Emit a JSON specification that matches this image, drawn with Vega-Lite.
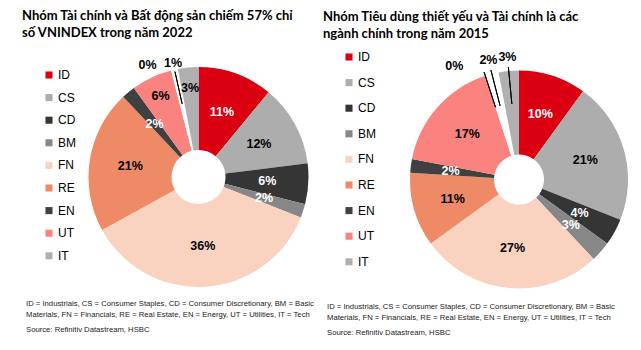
{
  "$schema": "https://vega.github.io/schema/vega-lite/v6.json",
  "padding": {"left": 22, "top": 9, "right": 0, "bottom": 0},
  "background": "white",
  "config": {"view": {"stroke": null}},
  "bounds": "flush",
  "spacing": 322,
  "resolve": {"scale": {"color": "independent", "theta": "independent"}, "legend": {"color": "independent"}},
  "datasets": {
    "y2022": [
      {"s": "ID", "v": 0.11, "i": 1},
      {"s": "CS", "v": 0.12, "i": 2},
      {"s": "CD", "v": 0.06, "i": 3},
      {"s": "BM", "v": 0.02, "i": 4},
      {"s": "FN", "v": 0.36, "i": 5},
      {"s": "RE", "v": 0.21, "i": 6},
      {"s": "EN", "v": 0.02, "i": 7},
      {"s": "UT", "v": 0.06, "i": 8},
      {"s": "HC", "v": 0.0, "i": 9},
      {"s": "TC", "v": 0.01, "i": 10},
      {"s": "IT", "v": 0.03, "i": 11}
    ],
    "y2015": [
      {"s": "ID", "v": 0.10, "i": 1},
      {"s": "CS", "v": 0.21, "i": 2},
      {"s": "CD", "v": 0.04, "i": 3},
      {"s": "BM", "v": 0.03, "i": 4},
      {"s": "FN", "v": 0.27, "i": 5},
      {"s": "RE", "v": 0.11, "i": 6},
      {"s": "EN", "v": 0.02, "i": 7},
      {"s": "UT", "v": 0.17, "i": 8},
      {"s": "HC", "v": 0.0, "i": 9},
      {"s": "TC", "v": 0.02, "i": 10},
      {"s": "IT", "v": 0.03, "i": 11}
    ]
  },
  "hconcat": [
    {
      "bounds": "flush",
      "title": {
        "text": ["ID = Industrials, CS = Consumer Staples, CD = Consumer Discretionary, BM = Basic", "Materials, FN = Financials, RE = Real Estate, EN = Energy, UT = Utilities, IT = Tech"],
        "subtitle": "Source: Refinitiv Datastream, HSBC",
        "orient": "bottom", "anchor": "start", "frame": "group", "dx": -62, "offset": 0,
        "font": "Liberation Sans", "fontSize": 7.7, "fontWeight": "normal", "color": "#222222", "lineHeight": 11,
        "subtitleFont": "Liberation Sans", "subtitleFontSize": 7.7, "subtitleColor": "#222222", "subtitlePadding": 7
      },
      "vconcat": [
        {
          "width": 221, "height": 220,
          "data": {"name": "y2022"},
          "title": {
            "text": ["Nhóm Tài chính và Bất động sản chiếm 57% chỉ", "số VNINDEX trong năm 2022"],
            "anchor": "start", "frame": "group", "dx": -66, "offset": 15,
            "font": "Lato", "fontSize": 13, "fontWeight": "bold", "color": "#000000", "lineHeight": 17
          },
          "encoding": {
            "theta": {"field": "v", "type": "quantitative", "stack": true, "scale": {"domain": [0, 1]}},
            "order": {"field": "i", "type": "quantitative"}
          },
          "layer": [
            {
              "mark": {"type": "arc", "outerRadius": 110, "innerRadius": 27},
              "encoding": {
                "color": {
                  "field": "s", "type": "nominal",
                  "scale": {
                    "domain": ["ID", "CS", "CD", "BM", "FN", "RE", "EN", "UT", "HC", "TC", "IT"],
                    "range": ["#DB0011", "#ADADAD", "#353535", "#878787", "#F9D3C0", "#EE8B66", "#404040", "#FA8380", "#FFFFFF", "#FFFFFF", "#B0B0B0"]
                  },
                  "legend": {
                    "orient": "none", "legendX": -45, "legendY": 2, "title": null,
                    "values": ["ID", "CS", "CD", "BM", "FN", "RE", "EN", "UT", "IT"],
                    "symbolType": "square", "symbolSize": 50, "symbolStrokeWidth": 0,
                    "labelFont": "Liberation Sans", "labelFontSize": 12, "labelColor": "#000000",
                    "rowPadding": 10.6, "labelOffset": 3
                  }
                }
              }
            },
            {
              "mark": {"type": "arc", "outerRadius": 108, "innerRadius": 75, "padAngle": 0.3, "fill": "transparent", "stroke": "#000000", "strokeWidth": 1},
              "encoding": {
                "opacity": {"condition": {"test": "datum.s == 'TC'", "value": 1}, "value": 0}
              }
            },
            {
              "mark": {"type": "text", "radius": 69, "font": "Liberation Sans", "fontSize": 12.5, "fontWeight": "bold"},
              "encoding": {
                "text": {"field": "v", "type": "quantitative", "format": ".0%"},
                "color": {"condition": {"test": "indexof(['ID','CD','BM','EN'], datum.s) >= 0", "value": "#FFFFFF"}, "value": "#000000"},
                "opacity": {"condition": {"test": "indexof(['ID','CS','CD','BM','FN','RE','EN'], datum.s) >= 0", "value": 1}, "value": 0}
              }
            },
            {
              "mark": {"type": "text", "radius": 89, "font": "Liberation Sans", "fontSize": 12.5, "fontWeight": "bold", "color": "#000000"},
              "encoding": {
                "text": {"field": "v", "type": "quantitative", "format": ".0%"},
                "opacity": {"condition": {"test": "datum.s == 'UT' || datum.s == 'IT'", "value": 1}, "value": 0}
              }
            },
            {
              "mark": {"type": "text", "radius": 116, "dx": -22, "font": "Liberation Sans", "fontSize": 12.5, "fontWeight": "bold", "color": "#000000"},
              "encoding": {
                "text": {"field": "v", "type": "quantitative", "format": ".0%"},
                "opacity": {"condition": {"test": "datum.s == 'HC'", "value": 1}, "value": 0}
              }
            },
            {
              "mark": {"type": "text", "radius": 117, "font": "Liberation Sans", "fontSize": 12.5, "fontWeight": "bold", "color": "#000000"},
              "encoding": {
                "text": {"field": "v", "type": "quantitative", "format": ".0%"},
                "opacity": {"condition": {"test": "datum.s == 'TC'", "value": 1}, "value": 0}
              }
            }
          ]
        }
      ]
    },
    {
      "bounds": "flush",
      "title": {
        "text": ["ID = Industrials, CS = Consumer Staples, CD = Consumer Discretionary, BM = Basic", "Materials, FN = Financials, RE = Real Estate, EN = Energy, UT = Utilities, IT = Tech"],
        "subtitle": "Source: Refinitiv Datastream, HSBC",
        "orient": "bottom", "anchor": "start", "frame": "group", "dx": -83, "offset": -5,
        "font": "Liberation Sans", "fontSize": 7.7, "fontWeight": "normal", "color": "#222222", "lineHeight": 11,
        "subtitleFont": "Liberation Sans", "subtitleFontSize": 7.7, "subtitleColor": "#222222", "subtitlePadding": 7
      },
      "vconcat": [
        {
          "width": 218, "height": 225,
          "data": {"name": "y2015"},
          "title": {
            "text": ["Nhóm Tiêu dùng thiết yếu và Tài chính là các", "ngành chính trong năm 2015"],
            "anchor": "start", "frame": "group", "dx": -87, "offset": 10,
            "font": "Lato", "fontSize": 13, "fontWeight": "bold", "color": "#000000", "lineHeight": 17
          },
          "encoding": {
            "theta": {"field": "v", "type": "quantitative", "stack": true, "scale": {"domain": [0, 1]}},
            "order": {"field": "i", "type": "quantitative"}
          },
          "layer": [
            {
              "mark": {"type": "arc", "outerRadius": 109, "innerRadius": 25},
              "encoding": {
                "color": {
                  "field": "s", "type": "nominal",
                  "scale": {
                    "domain": ["ID", "CS", "CD", "BM", "FN", "RE", "EN", "UT", "HC", "TC", "IT"],
                    "range": ["#DB0011", "#ADADAD", "#353535", "#878787", "#F9D3C0", "#EE8B66", "#404040", "#FA8380", "#FFFFFF", "#FFFFFF", "#B0B0B0"]
                  },
                  "legend": {
                    "orient": "none", "legendX": -67, "legendY": -16, "title": null,
                    "values": ["ID", "CS", "CD", "BM", "FN", "RE", "EN", "UT", "IT"],
                    "symbolType": "square", "symbolSize": 50, "symbolStrokeWidth": 0,
                    "labelFont": "Liberation Sans", "labelFontSize": 12, "labelColor": "#000000",
                    "rowPadding": 13.6, "labelOffset": 3
                  }
                }
              }
            },
            {
              "mark": {"type": "arc", "outerRadius": 113, "innerRadius": 76, "padAngle": 0.3, "fill": "transparent", "stroke": "#000000", "strokeWidth": 1},
              "encoding": {
                "opacity": {"condition": {"test": "datum.s == 'HC' || datum.s == 'TC' || datum.s == 'IT'", "value": 1}, "value": 0}
              }
            },
            {
              "mark": {"type": "text", "radius": 69, "font": "Liberation Sans", "fontSize": 12.5, "fontWeight": "bold"},
              "encoding": {
                "text": {"field": "v", "type": "quantitative", "format": ".0%"},
                "color": {"condition": {"test": "indexof(['ID','CD','BM','EN'], datum.s) >= 0", "value": "#FFFFFF"}, "value": "#000000"},
                "opacity": {"condition": {"test": "indexof(['ID','CS','CD','BM','FN','RE','EN','UT'], datum.s) >= 0", "value": 1}, "value": 0}
              }
            },
            {
              "mark": {"type": "text", "radius": 119, "dx": -28, "font": "Liberation Sans", "fontSize": 12.5, "fontWeight": "bold", "color": "#000000"},
              "encoding": {
                "text": {"field": "v", "type": "quantitative", "format": ".0%"},
                "opacity": {"condition": {"test": "datum.s == 'HC'", "value": 1}, "value": 0}
              }
            },
            {
              "mark": {"type": "text", "radius": 123, "font": "Liberation Sans", "fontSize": 12.5, "fontWeight": "bold", "color": "#000000"},
              "encoding": {
                "text": {"field": "v", "type": "quantitative", "format": ".0%"},
                "opacity": {"condition": {"test": "datum.s == 'TC' || datum.s == 'IT'", "value": 1}, "value": 0}
              }
            }
          ]
        }
      ]
    }
  ]
}
